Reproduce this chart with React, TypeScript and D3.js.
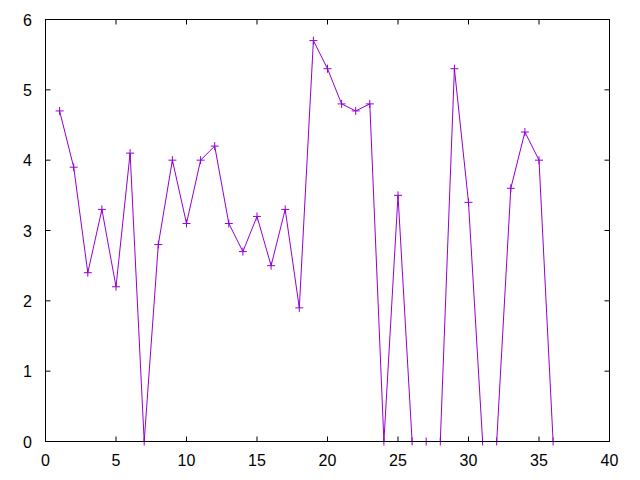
import React from "react";
import * as d3 from "d3";

const xValues = [1,2,3,4,5,6,7,8,9,10,11,12,13,14,15,16,17,18,19,20,21,22,23,24,25,26,27,28,29,30,31,32,33,34,35,36];
const yValues = [4.7,3.9,2.4,3.3,2.2,4.1,0,2.8,4.0,3.1,4.0,4.2,3.1,2.7,3.2,2.5,3.3,1.9,5.7,5.3,4.8,4.7,4.8,0,3.5,0,0,0,5.3,3.4,0,0,3.6,4.4,4.0,0];
const xTicks = [0,5,10,15,20,25,30,35,40];
const yTicks = [0,1,2,3,4,5,6];

export default function App() {
  const W = 640, H = 480;
  const L = 45.5, R = 609.5, T = 19.5, B = 441.5;
  const x = d3.scaleLinear().domain([0, 40]).range([L, R]);
  const y = d3.scaleLinear().domain([0, 6]).range([B, T]);
  const pts = xValues.map((v, i) => [v, yValues[i]] as [number, number]);
  const line = d3.line<[number, number]>().x(d => x(d[0])).y(d => y(d[1]));
  const color = "#9400d3";
  const font = "'Liberation Sans', Arial, sans-serif";
  const tk = 5;
  return (
    <svg width={W} height={H} style={{ position: "absolute", left: 0, top: 0, background: "#fff" }}>
      <rect x={0} y={0} width={W} height={H} fill="#fff" />
      <path d={line(pts) || ""} fill="none" stroke={color} strokeWidth={1} />
      {pts.map((p, i) => (
        <g key={i} stroke={color} strokeWidth={1}>
          <line x1={x(p[0]) - 4} x2={x(p[0]) + 4} y1={y(p[1])} y2={y(p[1])} />
          <line x1={x(p[0])} x2={x(p[0])} y1={y(p[1]) - 4} y2={y(p[1]) + 4} />
        </g>
      ))}
      <g stroke="#000" strokeWidth={1}>
        {xTicks.map(t => (
          <g key={"x" + t}>
            <line x1={x(t)} x2={x(t)} y1={B} y2={B - tk} />
            <line x1={x(t)} x2={x(t)} y1={T} y2={T + tk} />
          </g>
        ))}
        {yTicks.map(t => (
          <g key={"y" + t}>
            <line x1={L} x2={L + tk} y1={y(t)} y2={y(t)} />
            <line x1={R} x2={R - tk} y1={y(t)} y2={y(t)} />
          </g>
        ))}
        <rect x={L} y={T} width={R - L} height={B - T} fill="none" />
      </g>
      <g fontFamily={font} fontSize={16} fill="#000">
        {xTicks.map(t => (
          <text key={"xl" + t} x={x(t)} y={466} textAnchor="middle">{t}</text>
        ))}
        {yTicks.map(t => (
          <text key={"yl" + t} x={32} y={y(t) + 6} textAnchor="end">{t}</text>
        ))}
      </g>
    </svg>
  );
}
